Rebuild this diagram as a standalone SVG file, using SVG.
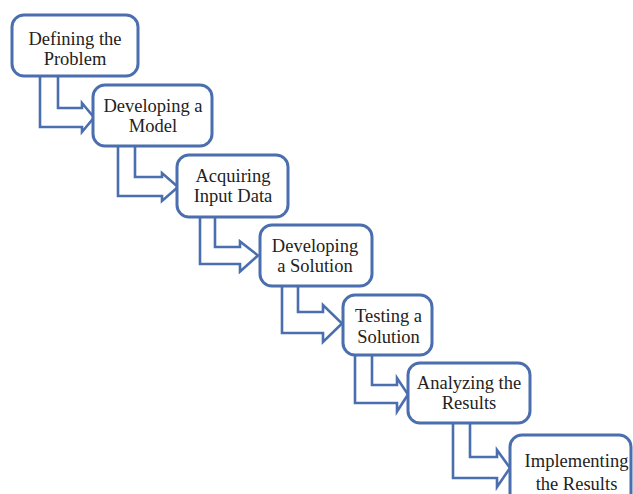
<svg xmlns="http://www.w3.org/2000/svg" width="633" height="494" viewBox="0 0 633 494">
<style>
.box{fill:#fff;stroke:#4b6fae;stroke-width:3}
.arr{fill:#fff;stroke:#4b6fae;stroke-width:2.6;stroke-linejoin:miter}
.t{font-family:"Liberation Serif","Times New Roman",serif;font-size:18.5px;fill:#222;text-anchor:middle}
</style>
<rect width="633" height="494" fill="#fff"/>
<g id="connectors">
<path class="arr" d="M58,74 L58,108 L82,108 L82,103 L94,117.5 L82,132 L82,127 L40,127 L40,74"/>
<path class="arr" d="M135,144 L135,177 L162,177 L162,173 L178,187 L162,201 L162,196 L118,196 L118,144"/>
<path class="arr" d="M215,215 L215,247 L240,247 L240,241.5 L258,255.5 L240,271.5 L240,264 L200,264 L200,215"/>
<path class="arr" d="M298,284 L298,312 L323,312 L323,305 L342,323.5 L323,342 L323,333 L282,333 L282,284"/>
<path class="arr" d="M372,353 L372,385 L397,385 L397,378 L408,394.5 L397,411.5 L397,403 L355,403 L355,353"/>
<path class="arr" d="M470,421 L470,457 L497,457 L497,450 L510,468 L497,487 L497,478 L453,478 L453,421"/>
</g>
<g id="n1"><rect class="box" x="12" y="15" width="126" height="61" rx="12"/><text class="t" x="75" y="44.5">Defining the</text><text class="t" x="75" y="65">Problem</text></g>
<g id="n2"><rect class="box" x="93" y="85" width="119" height="61" rx="12"/><text class="t" x="153" y="111.6">Developing a</text><text class="t" x="153" y="132.1">Model</text></g>
<g id="n3"><rect class="box" x="177" y="155" width="111" height="62" rx="12"/><text class="t" x="233" y="181.6">Acquiring</text><text class="t" x="233" y="202.1">Input Data</text></g>
<g id="n4"><rect class="box" x="260" y="225" width="112" height="61" rx="12"/><text class="t" x="315" y="251.8">Developing</text><text class="t" x="315" y="272.3">a Solution</text></g>
<g id="n5"><rect class="box" x="343" y="295" width="89" height="60" rx="12"/><text class="t" x="388.5" y="322.1">Testing a</text><text class="t" x="388.5" y="342.6">Solution</text></g>
<g id="n6"><rect class="box" x="408" y="363" width="122" height="60" rx="12"/><text class="t" x="469" y="388.8">Analyzing the</text><text class="t" x="469" y="409.3">Results</text></g>
<g id="n7"><rect class="box" x="510" y="435" width="121" height="70" rx="12"/><text class="t" x="576.5" y="466.5">Implementing</text><text class="t" x="576.5" y="490">the Results</text></g>
</svg>
